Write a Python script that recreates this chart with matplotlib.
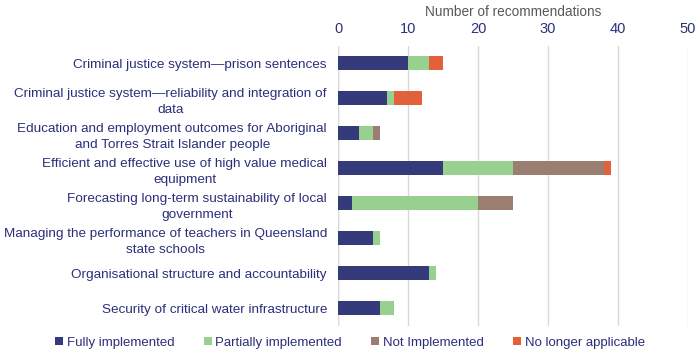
import numpy as np
import matplotlib.pyplot as plt

categories = [
    "Criminal justice system\u2014prison sentences",
    "Criminal justice system\u2014reliability and integration of\ndata",
    "Education and employment outcomes for Aboriginal\nand Torres Strait Islander people",
    "Efficient and effective use of high value medical\nequipment",
    "Forecasting long-term sustainability of local\ngovernment",
    "Managing the performance of teachers in Queensland\nstate schools",
    "Organisational structure and accountability",
    "Security of critical water infrastructure",
]
fully = [10, 7, 3, 15, 2, 5, 13, 6]
partially = [3, 1, 2, 10, 18, 1, 1, 2]
not_impl = [0, 0, 1, 13, 5, 0, 0, 0]
no_longer = [2, 4, 0, 1, 0, 0, 0, 0]

series = [
    ("Fully implemented", fully, "#353b7a"),
    ("Partially implemented", partially, "#98d18f"),
    ("Not Implemented", not_impl, "#9a7f70"),
    ("No longer applicable", no_longer, "#e2603a"),
]

plt.rcParams['font.family'] = ['Liberation Sans', 'DejaVu Sans']
text_col = "#2b2f7a"

fig = plt.figure(figsize=(7, 3.57), dpi=100)
ax = fig.add_axes([0.483, 0.088, 0.5, 0.784])

y = np.arange(len(categories))
left = np.zeros(len(categories))
for name, vals, col in series:
    ax.barh(y, vals, left=left, height=0.4, color=col, label=name)
    left += np.array(vals)

ax.set_xlim(0, 50)
ax.set_ylim(len(categories) - 0.5, -0.5)
ax.set_xticks(range(0, 51, 10))
ax.xaxis.tick_top()
ax.xaxis.set_label_position('top')
ax.set_xlabel("Number of recommendations", fontsize=9.8, color="#595959", labelpad=4)
ax.tick_params(axis='x', length=0, labelsize=10.5, labelcolor=text_col, pad=7)
ax.set_yticks(y)
ax.set_yticklabels(categories, fontsize=9.7, color=text_col,
                   multialignment='center', linespacing=1.45)
ax.tick_params(axis='y', length=0, pad=8)
ax.grid(axis='x', color="#d9d9d9", linewidth=1)
ax.set_axisbelow(True)
for s in ax.spines.values():
    s.set_visible(False)
ax.axvline(0, color="#d9d9d9", linewidth=1, zorder=0)

leg = fig.legend(loc='lower center', bbox_to_anchor=(0.5, -0.01), ncol=4, frameon=False,
                 handlelength=0.6, handleheight=0.6, handletextpad=0.3,
                 columnspacing=2.2, prop={'family': ['Liberation Sans'], 'size': 9.5})
for t in leg.get_texts():
    t.set_color(text_col)

fig.savefig("out.png", dpi=100)
